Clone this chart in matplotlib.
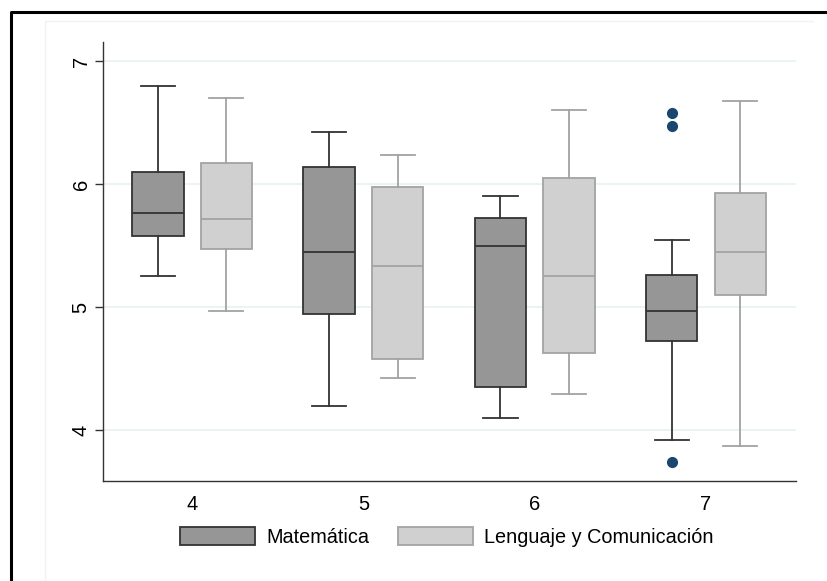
import matplotlib
matplotlib.use("Agg")
import matplotlib.pyplot as plt
from matplotlib.patches import Patch
from matplotlib.lines import Line2D

plt.rcParams['font.family'] = ['Liberation Sans', 'DejaVu Sans']

grupos = [4, 5, 6, 7]
series = ["Matemática", "Lenguaje y Comunicación"]

# matematica: whislo, q1, med, q3, whishi
mat_lo = [5.25, 4.195, 4.095, 3.919]
mat_q1 = [5.577, 4.946, 4.347, 4.724]
mat_med = [5.762, 5.447, 5.498, 4.970]
mat_q3 = [6.098, 6.141, 5.721, 5.26]
mat_hi = [6.80, 6.423, 5.902, 5.545]
mat_out = [[], [], [], [6.575, 6.472, 3.742]]

len_lo = [4.970, 4.425, 4.293, 3.870]
len_q1 = [5.474, 4.575, 4.624, 5.095]
len_med = [5.715, 5.336, 5.252, 5.450]
len_q3 = [6.173, 5.973, 6.046, 5.924]
len_hi = [6.70, 6.236, 6.599, 6.675]
len_out = [[], [], [], []]

fill_dark = "#969696"
edge_dark = "#333333"
fill_light = "#d0d0d0"
edge_light = "#a3a3a3"
navy = "#1a476f"
grid_col = "#eaf2f3"


def stats(lo, q1, med, q3, hi, out):
    res = []
    for i in range(len(lo)):
        res.append(dict(whislo=lo[i], q1=q1[i], med=med[i], q3=q3[i],
                        whishi=hi[i], fliers=out[i]))
    return res


fig = plt.figure(figsize=(8.27, 5.81), dpi=100)
ax = fig.add_axes([0.12455, 0.17212, 0.9625 - 0.12455, 0.92771 - 0.17212])

for y in [4, 5, 6, 7]:
    ax.axhline(y, color=grid_col, lw=1.3, zorder=0)

for st, off, fc, ec in [(stats(mat_lo, mat_q1, mat_med, mat_q3, mat_hi, mat_out), -0.2, fill_dark, edge_dark),
                        (stats(len_lo, len_q1, len_med, len_q3, len_hi, len_out), 0.2, fill_light, edge_light)]:
    pos = [g + off for g in grupos]
    ax.bxp(st, positions=pos, widths=0.3, patch_artist=True, showfliers=True,
           boxprops=dict(facecolor=fc, edgecolor=ec, lw=1.3),
           medianprops=dict(color=ec, lw=1.3),
           whiskerprops=dict(color=ec, lw=1.3),
           capprops=dict(color=ec, lw=1.3),
           capwidths=0.2,
           flierprops=dict(marker='o', markerfacecolor=navy, markeredgecolor=navy,
                           markersize=7, linestyle='none'),
           manage_ticks=False)

ax.set_xlim(3.48, 7.525)
ax.set_ylim(3.585, 7.154)
ax.set_xticks(grupos)
ax.set_xticklabels([str(g) for g in grupos])
ax.set_yticks([4, 5, 6, 7])
ax.set_yticklabels(["4", "5", "6", "7"], rotation=90, va='center')
ax.tick_params(axis='x', length=0, labelsize=14.5, pad=10)
ax.tick_params(axis='y', length=6, width=1, color=edge_dark, labelsize=14.5, pad=3)
for s in ['top', 'right']:
    ax.spines[s].set_visible(False)
for s in ['left', 'bottom']:
    ax.spines[s].set_color(edge_dark)
    ax.spines[s].set_linewidth(1)

handles = [Patch(facecolor=fill_dark, edgecolor=edge_dark, lw=1.3),
           Patch(facecolor=fill_light, edgecolor=edge_light, lw=1.3)]
fig.legend(handles, series, loc='center', bbox_to_anchor=(0.54, 0.0757), ncol=2,
           frameon=False, fontsize=14.3, handlelength=3.8, handleheight=1.0,
           handletextpad=0.55, columnspacing=1.45)

# marcos exteriores
fig.add_artist(Line2D([45 / 827, 45 / 827, 813 / 827], [0, 1 - 21 / 581, 1 - 21 / 581],
                      transform=fig.transFigure, color="#f2f2f2", lw=1))
fig.add_artist(Line2D([10.5 / 827, 10.5 / 827, 1], [0, 1 - 12 / 581, 1 - 12 / 581],
                      transform=fig.transFigure, color="black", lw=2.2))

fig.savefig("out.png", dpi=100)
